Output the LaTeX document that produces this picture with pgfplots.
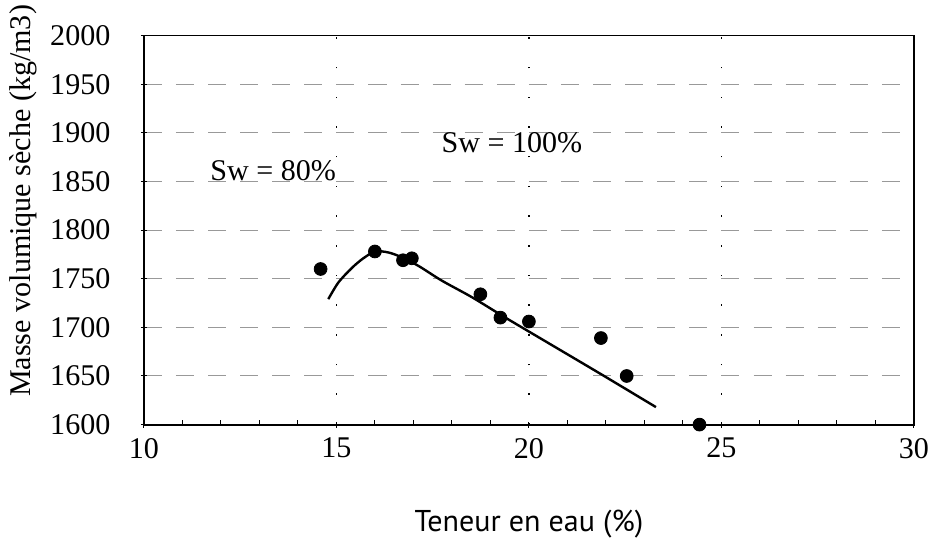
\documentclass[border=0pt]{standalone}
\usepackage{fontspec}
\setmainfont{Liberation Serif}
\newfontfamily\xlabfont{PT Sans}
\usepackage{pgfplots}
\pgfplotsset{compat=1.18}
\begin{document}
\fontsize{15}{17}\selectfont
\begin{tikzpicture}
\begin{axis}[
  scale only axis,
  width=384pt, height=194pt,
  xmin=10, xmax=30, ymin=1600, ymax=2000,
  xtick={10,15,20,25,30},
  ytick={1600,1650,...,2000},
  minor x tick num=4,
  tick pos=left,
  /pgf/number format/assume math mode=true,
  /pgf/number format/set thousands separator={},
  tick label style={font=\fontsize{15}{17}\selectfont},
  xticklabel style={yshift=0pt, inner xsep=0.5pt},
  yticklabel style={xshift=-10pt},
  xlabel={Teneur en eau (\%)},
  ylabel={Masse volumique sèche (kg/m3)},
  xlabel style={font=\xlabfont\fontsize{15}{17}\selectfont, inner ysep=2pt, at={(axis description cs:0.5,-0.255)}, anchor=center},
  ylabel style={font=\fontsize{15}{17}\selectfont, inner xsep=2.5pt, inner ysep=5pt, at={(axis description cs:-0.156,0.575)}, anchor=center},
  axis line style={line width=0.9pt},
  tick style={black, line width=0.5pt},
  tick align=center,
  major tick length=3pt,
  minor tick length=2.5pt,
  minor tick style={black, line width=0.5pt, yshift=1.2pt},
  xmajorgrids, ymajorgrids,
  y grid style={gray!80, line width=0.5pt, dash pattern=on 9pt off 7pt},
  x grid style={black, line width=0.8pt, dash pattern=on 0.8pt off 14pt},
  clip marker paths=true,
  clip=false,
]
\addplot[only marks, mark=*, mark size=3.2pt, black] coordinates {
  (14.59,1760) (16.00,1778) (16.73,1769) (16.96,1771)
  (18.74,1734) (19.26,1710) (20.00,1706) (21.87,1689)
  (22.54,1650) (24.43,1600)
};
\addplot[black, line width=1.2pt, smooth, tension=0.5] coordinates {
  (14.79,1729) (15.05,1746) (15.40,1761) (15.70,1771) (16.01,1778)
  (16.35,1777) (16.70,1772) (17.14,1763) (17.74,1748)
  (18.52,1731) (19.39,1710) (20.50,1684) (21.91,1651) (23.30,1618)
};
\node at (axis cs:13.36,1861) {Sw = 80\%};
\node at (axis cs:19.56,1890) {Sw = 100\%};
\end{axis}
\end{tikzpicture}
\end{document}
